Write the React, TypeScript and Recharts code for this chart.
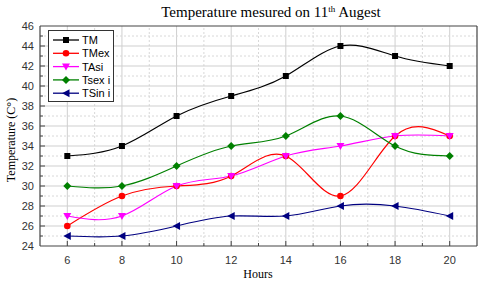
import React from 'react';
import { LineChart, Line, XAxis, YAxis, ReferenceLine } from 'recharts';

const hours = [6, 8, 10, 12, 14, 16, 18, 20];
const tm = [33, 34, 37, 39, 41, 44, 43, 42];
const tmex = [26, 29, 30, 31, 33, 29, 35, 35];
const tasi = [27, 27, 30, 31, 33, 34, 35, 35];
const tsexi = [30, 30, 32, 34, 35, 37, 34, 33];
const tsini = [25, 25, 26, 27, 27, 28, 28, 27];

const xTicks = [5, 6, 7, 8, 9, 10, 11, 12, 13, 14, 15, 16, 17, 18, 19, 20, 21];
const yTicks = [24, 25, 26, 27, 28, 29, 30, 31, 32, 33, 34, 35, 36, 37, 38, 39, 40, 41, 42, 43, 44, 45, 46];
const xGrid = [6, 7, 8, 9, 10, 11, 12, 13, 14, 15, 16, 17, 18, 19, 20];
const yGrid = [25, 26, 27, 28, 29, 30, 31, 32, 33, 34, 35, 36, 37, 38, 39, 40, 41, 42, 43, 44, 45];

const data = hours.map((h, i) => ({
  hour: h,
  TM: tm[i],
  TMex: tmex[i],
  TAsi: tasi[i],
  Tsexi: tsexi[i],
  TSini: tsini[i],
}));

const series = [
  { key: 'TM', name: 'TM', color: '#000000', shape: 'square' },
  { key: 'TMex', name: 'TMex', color: '#ff0000', shape: 'circle' },
  { key: 'TAsi', name: 'TAsi', color: '#ff00ff', shape: 'down' },
  { key: 'Tsexi', name: 'Tsex i', color: '#008000', shape: 'diamond' },
  { key: 'TSini', name: 'TSin i', color: '#000080', shape: 'left' },
];

const AXIS = '#444';
const TICK_FONT = '"Liberation Sans", Arial, sans-serif';
const SERIF = '"Liberation Serif", "Times New Roman", serif';

function Marker({ shape, cx, cy, color }: any) {
  if (cx == null || cy == null) return null;
  switch (shape) {
    case 'square':
      return <rect x={cx - 3} y={cy - 3} width={6} height={6} fill={color} />;
    case 'circle':
      return <circle cx={cx} cy={cy} r={3.3} fill={color} />;
    case 'down':
      return <polygon points={`${cx - 4},${cy - 3} ${cx + 4},${cy - 3} ${cx},${cy + 4}`} fill={color} />;
    case 'diamond':
      return <polygon points={`${cx},${cy - 4} ${cx + 4},${cy} ${cx},${cy + 4} ${cx - 4},${cy}`} fill={color} />;
    case 'left':
      return <polygon points={`${cx - 4},${cy} ${cx + 3.5},${cy - 4} ${cx + 3.5},${cy + 4}`} fill={color} />;
    default:
      return null;
  }
}

const XM = 9;
const YM = 6;

function XTick(props: any) {
  const { x, y, payload } = props;
  const v = payload.value;
  const major = v % 2 === 0;
  const ay = y - XM;
  if (v === 5 || v === 21) return <g />;
  return (
    <g>
      <line x1={x} x2={x} y1={ay} y2={ay - (major ? 5 : 3)} stroke={AXIS} />
      {major && (
        <text x={x} y={y} dy="0.8em" textAnchor="middle" fontSize={11} fill="#333" fontFamily={TICK_FONT}>
          {v}
        </text>
      )}
    </g>
  );
}

function YTick(props: any) {
  const { x, y, payload } = props;
  const v = payload.value;
  const major = v % 2 === 0;
  const ax = x + YM;
  if (v === 24 || v === 46) {
    return (
      <text x={x} y={y} dy="0.36em" textAnchor="end" fontSize={11} fill="#333" fontFamily={TICK_FONT}>
        {v}
      </text>
    );
  }
  return (
    <g>
      <line x1={ax} x2={ax + (major ? 5 : 3)} y1={y} y2={y} stroke={AXIS} />
      {major && (
        <text x={x} y={y} dy="0.36em" textAnchor="end" fontSize={11} fill="#333" fontFamily={TICK_FONT}>
          {v}
        </text>
      )}
    </g>
  );
}

function LegendBox() {
  return (
    <g>
      <rect x={48.5} y={30.5} width={65} height={71} fill="#fff" stroke="#333" strokeWidth={1} />
      {series.map((s, i) => {
        const cy = 40 + i * 13.3;
        return (
          <g key={s.key}>
            <line x1={53} x2={79} y1={cy} y2={cy} stroke={s.color} strokeWidth={1.3} />
            <Marker shape={s.shape} cx={66} cy={cy} color={s.color} />
            <text x={82} y={cy} dy="0.36em" fontSize={11} fill="#000" fontFamily={TICK_FONT}>
              {s.name}
            </text>
          </g>
        );
      })}
    </g>
  );
}

export default function App() {
  return (
    <div style={{ position: 'absolute', left: 0, top: 0, width: 480, height: 283, background: '#fff' }}>
      <LineChart width={480} height={283} data={data} margin={{ top: 26, right: 3, bottom: 17, left: 0 }}>
        {xGrid.map((v) => (
          <ReferenceLine
            key={'vx' + v}
            x={v}
            stroke={v % 2 === 0 ? '#cfcfcf' : '#d8d8d8'}
            strokeDasharray={v % 2 === 0 ? undefined : '2 2'}
            strokeWidth={1}
          />
        ))}
        {yGrid.map((v) => (
          <ReferenceLine
            key={'hy' + v}
            y={v}
            stroke={v % 2 === 0 ? '#cfcfcf' : '#d8d8d8'}
            strokeDasharray={v % 2 === 0 ? undefined : '2 2'}
            strokeWidth={1}
          />
        ))}
        <ReferenceLine y={46} stroke={AXIS} strokeWidth={1.2} />
        <ReferenceLine x={21} stroke={AXIS} strokeWidth={1.2} />
        <XAxis
          dataKey="hour"
          type="number"
          domain={[5, 21]}
          ticks={xTicks}
          interval={0}
          height={20}
          tickSize={0}
          tickMargin={XM}
          tickLine={false}
          axisLine={{ stroke: AXIS, strokeWidth: 1.2 }}
          tick={<XTick />}
        />
        <YAxis
          type="number"
          domain={[24, 46]}
          ticks={yTicks}
          interval={0}
          width={40}
          tickSize={0}
          tickMargin={YM}
          tickLine={false}
          axisLine={{ stroke: AXIS, strokeWidth: 1.2 }}
          tick={<YTick />}
        />
        {series.map((s) => (
          <Line
            key={s.key}
            dataKey={s.key}
            name={s.name}
            type="natural"
            stroke={s.color}
            strokeWidth={1.2}
            isAnimationActive={false}
            dot={(p: any) => <Marker key={s.key + p.index} shape={s.shape} cx={p.cx} cy={p.cy} color={s.color} />}
            activeDot={false}
          />
        ))}
      </LineChart>
      <svg width={480} height={283} style={{ position: 'absolute', left: 0, top: 0, pointerEvents: 'none' }}>
        <LegendBox />
        <text x={271} y={16.5} textAnchor="middle" fontSize={15} fill="#000" fontFamily={SERIF}>
          Temperature mesured on 11
          <tspan fontSize={9} dy={-5}>th</tspan>
          <tspan dy={5}> Augest</tspan>
        </text>
        <text
          x={15}
          y={140}
          textAnchor="middle"
          fontSize={12}
          fill="#000"
          fontFamily={SERIF}
          transform="rotate(-90 15 140)"
        >
          Temperature (C°)
        </text>
        <text x={258} y={278} textAnchor="middle" fontSize={12} fill="#000" fontFamily={SERIF}>
          Hours
        </text>
      </svg>
    </div>
  );
}
